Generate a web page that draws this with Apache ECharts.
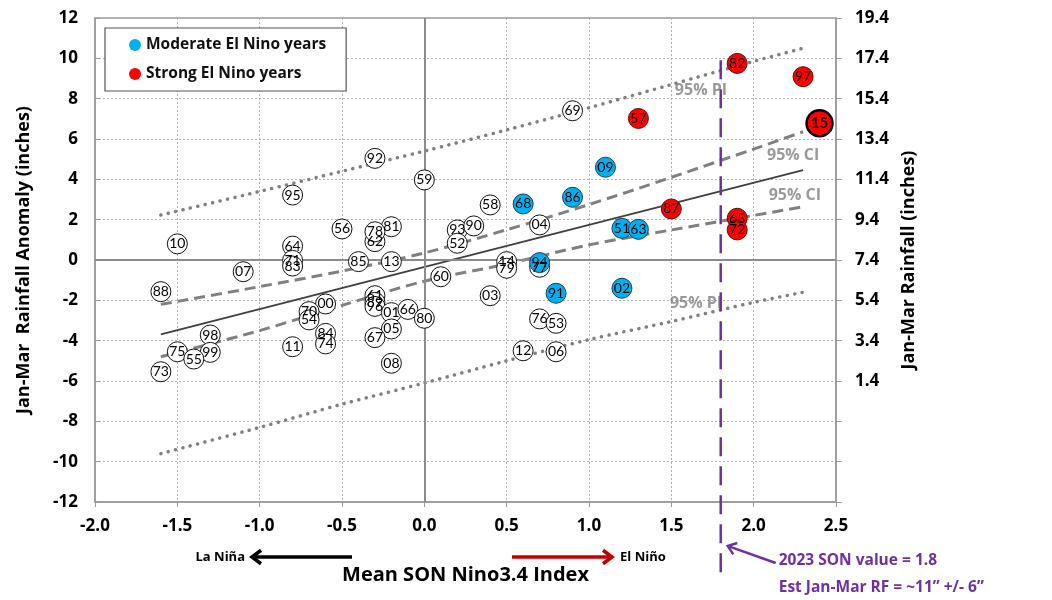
<!DOCTYPE html>
<html><head><meta charset="utf-8">
<script src="https://cdn.jsdelivr.net/npm/echarts@6/dist/echarts.min.js"></script>
<style>html,body{margin:0;padding:0;background:#fff}#c{width:1052px;height:600px}</style>
</head><body><div id="c"></div>
<script>
// ---------- data ----------
const neutralYears = ['10','07','88','98','75','99','55','73','92','95','59','56','81','62','78','64','71','83','85','13','00','70','54','84','74','11','61','89','96','01','66','80','05','67','08','60','69','58','93','90','52','04','14','79','77','03','76','53','12','06'];
const neutralX = [-1.5,-1.1,-1.6,-1.3,-1.5,-1.3,-1.4,-1.6,-0.3,-0.8,0.0,-0.5,-0.2,-0.3,-0.3,-0.8,-0.8,-0.8,-0.4,-0.2,-0.6,-0.7,-0.7,-0.6,-0.6,-0.8,-0.3,-0.3,-0.3,-0.2,-0.1,0.0,-0.2,-0.3,-0.2,0.1,0.9,0.4,0.2,0.3,0.2,0.7,0.5,0.5,0.7,0.4,0.7,0.8,0.6,0.8];
const neutralY = [0.8,-0.58,-1.57,-3.72,-4.55,-4.58,-4.91,-5.54,5.04,3.22,3.97,1.54,1.65,0.91,1.40,0.69,-0.02,-0.3,-0.08,-0.08,-2.18,-2.56,-2.97,-3.64,-4.16,-4.30,-1.77,-2.1,-2.3,-2.61,-2.45,-2.89,-3.42,-3.85,-5.12,-0.83,7.40,2.73,1.49,1.69,0.83,1.74,-0.08,-0.41,-0.36,-1.77,-2.92,-3.14,-4.50,-4.55];

const moderateYears = ['68','86','09','51','63','94','91','02'];
const moderateX = [0.6,0.9,1.1,1.2,1.3,0.7,0.8,1.2];
const moderateY = [2.78,3.11,4.60,1.57,1.52,-0.13,-1.65,-1.40];

const strongYears = ['82','97','57','87','65','72'];
const strongX = [1.9,2.3,1.3,1.5,1.9,1.9];
const strongY = [9.75,9.09,7.02,2.53,2.07,1.49];

const highlightYears = ['15'];
const highlightX = [2.4];
const highlightY = [6.78];

const regX = [-1.6, 2.3];
const regY = [-3.69, 4.46];
const bandX = [-1.6,-1.0,-0.5,0.0,0.5,1.0,1.5,2.0,2.3];
const ciUpperY = [-2.2,-1.32,-0.55,0.35,1.5,2.75,4.1,5.5,6.36];
const ciLowerY = [-4.8,-3.5,-2.25,-1.05,-0.2,0.75,1.49,2.21,2.64];
const piUpperY = [2.23,3.4,4.4,5.4,6.45,7.55,8.7,9.85,10.5];
const piLowerY = [-9.6,-8.3,-7.15,-6.1,-5.0,-3.95,-3.05,-2.1,-1.6];

const son2023 = 1.8;
const son2023LineY = [9.9, -15.6];

const bandLabelText = ['95% PI','95% CI','95% CI','95% PI'];
const bandLabelX = [1.68, 2.24, 2.25, 1.65];
const bandLabelY = [8.43, 5.2, 3.22, -2.13];

const xMin = -2.0, xMax = 2.5, xStep = 0.5;
const yMin = -12, yMax = 12, yStep = 2;
const rightOffset = 7.4; // Jan-Mar rainfall = anomaly + 7.4

// ---------- chart ----------
const FONT = 'Open Sans';
const zip = (names, xs, ys) => names.map((n, i) => ({ name: n, value: [xs[i], ys[i]] }));
const pts = (xs, ys) => xs.map((x, i) => [x, ys[i]]);

const circleLabel = { show: true, position: 'inside', formatter: p => p.name, color: '#000', fontFamily: 'Lato', fontSize: 14 };
const tickFont = { color: '#000', fontWeight: 'bold', fontSize: 17, fontFamily: FONT };

const chart = echarts.init(document.getElementById('c'), null, { renderer: 'canvas' });

const option = {
  animation: false,
  backgroundColor: '#fff',
  textStyle: { fontFamily: FONT },
  grid: { left: 95, right: 216, top: 18, bottom: 98, show: true, borderColor: '#9a9a9a', borderWidth: 1.5, backgroundColor: 'transparent' },
  legend: {
    data: ['Moderate El Nino years', 'Strong El Nino years'],
    orient: 'vertical', left: 105, top: 28,
    icon: 'circle', itemWidth: 12, itemHeight: 12, itemGap: 13,
    padding: [9, 20, 9, 24],
    borderColor: '#555', borderWidth: 1.2, backgroundColor: '#fff',
    itemStyle: { borderWidth: 0 },
    textStyle: { fontFamily: FONT, fontWeight: 'bold', fontSize: 15.5, color: '#111' },
    selectedMode: false
  },
  xAxis: {
    type: 'value', min: xMin, max: xMax, interval: xStep,
    axisLine: { onZero: false, show: true, lineStyle: { color: '#9a9a9a', width: 1.5 } },
    axisTick: { show: true, length: 5, lineStyle: { color: '#9a9a9a' } },
    axisLabel: Object.assign({ formatter: v => v.toFixed(1), margin: 16 }, tickFont),
    splitLine: { show: true, lineStyle: { color: '#b0b0b0', type: [2, 2], width: 1 } },
    name: 'Mean SON Nino3.4 Index', nameLocation: 'middle', nameGap: 63,
    nameTextStyle: { color: '#000', fontWeight: 'bold', fontSize: 20, fontFamily: FONT }
  },
  yAxis: [{
    type: 'value', min: yMin, max: yMax, interval: yStep,
    axisLine: { onZero: false, show: true, lineStyle: { color: '#9a9a9a', width: 1.5 } },
    axisTick: { show: true, inside: true, length: 5, lineStyle: { color: '#9a9a9a' } },
    axisLabel: Object.assign({ margin: 17 }, tickFont),
    splitLine: { show: true, lineStyle: { color: '#b0b0b0', type: [2, 2], width: 1 } },
    name: 'Jan-Mar  Rainfall Anomaly (inches)', nameLocation: 'middle', nameGap: 62, nameRotate: 90,
    nameTextStyle: { color: '#000', fontWeight: 'bold', fontSize: 18, fontFamily: FONT }
  }, {
    type: 'value', min: yMin, max: yMax, interval: yStep, position: 'right',
    axisLine: { onZero: false, show: true, lineStyle: { color: '#9a9a9a', width: 1.5 } },
    axisTick: { show: true, length: 6, lineStyle: { color: '#9a9a9a' } },
    axisLabel: Object.assign({ formatter: v => (v + rightOffset >= 0 ? (v + rightOffset).toFixed(1) : ''), margin: 19 }, tickFont),
    splitLine: { show: false },
    name: 'Jan-Mar Rainfall (inches)', nameLocation: 'middle', nameGap: 63, nameRotate: 90,
    nameTextStyle: { color: '#000', fontWeight: 'bold', fontSize: 18, fontFamily: FONT }
  }],
  series: [
    { // zero lines
      type: 'line', data: [], silent: true,
      markLine: { symbol: 'none', silent: true, label: { show: false },
        lineStyle: { color: '#8c8c8c', width: 2, type: 'solid' },
        data: [{ xAxis: 0 }, { yAxis: 0 }] }
    },
    { type: 'line', data: pts(bandX, piUpperY), smooth: 0.3, symbol: 'none', silent: true, z: 2,
      lineStyle: { color: '#808080', width: 3.5, type: [0.1, 7.5], cap: 'round' } },
    { type: 'line', data: pts(bandX, piLowerY), smooth: 0.3, symbol: 'none', silent: true, z: 2,
      lineStyle: { color: '#808080', width: 3.5, type: [0.1, 7.5], cap: 'round' } },
    { type: 'line', data: pts(bandX, ciUpperY), smooth: 0.3, symbol: 'none', silent: true, z: 2,
      lineStyle: { color: '#808080', width: 3, type: [11, 6] } },
    { type: 'line', data: pts(bandX, ciLowerY), smooth: 0.3, symbol: 'none', silent: true, z: 2,
      lineStyle: { color: '#808080', width: 3, type: [11, 6] } },
    { type: 'line', data: pts(regX, regY), symbol: 'none', silent: true, z: 2,
      lineStyle: { color: '#404040', width: 1.8 } },
    { type: 'scatter', data: zip(bandLabelText, bandLabelX, bandLabelY), symbolSize: 1, silent: true, z: 3,
      itemStyle: { color: 'rgba(0,0,0,0)' },
      label: { show: true, position: 'inside', formatter: p => p.name, color: '#808080', fontWeight: 'bold', fontSize: 16, fontFamily: FONT } },
    { name: 'neutral', type: 'scatter', data: zip(neutralYears, neutralX, neutralY), symbolSize: 20, z: 5,
      itemStyle: { color: '#fff', borderColor: '#111', borderWidth: 1, opacity: 1 }, label: circleLabel },
    { name: 'Moderate El Nino years', type: 'scatter', data: zip(moderateYears, moderateX, moderateY), symbolSize: 20, z: 5,
      itemStyle: { color: '#00B0F0', borderColor: '#1a3a55', borderWidth: 1, opacity: 1 }, label: circleLabel },
    { name: 'Strong El Nino years', type: 'scatter', data: zip(strongYears, strongX, strongY), symbolSize: 20, z: 5,
      itemStyle: { color: '#FF0000', borderColor: '#5a1010', borderWidth: 1, opacity: 1 }, label: circleLabel },
    { name: 'strong-highlight', type: 'scatter', data: zip(highlightYears, highlightX, highlightY), symbolSize: 26, z: 5,
      itemStyle: { color: '#FF0000', borderColor: '#000', borderWidth: 2.5, opacity: 1 },
      label: Object.assign({}, circleLabel, { fontSize: 15, fontWeight: 'bold' }) },
    { type: 'line', data: son2023LineY.map(y => [son2023, y]), symbol: 'none', silent: true, clip: false, z: 6,
      lineStyle: { color: '#7030A0', width: 2.5, type: [19, 10] } }
  ]
};
chart.setOption(option);

// ---------- annotations outside the plot ----------
function arrow(x1, y1, x2, y2, color, w, head) {
  const dx = x2 - x1, dy = y2 - y1, L = Math.hypot(dx, dy), ux = dx / L, uy = dy / L;
  const px = -uy, py = ux;
  const bx = x2 - ux * head, by = y2 - uy * head;
  return [
    { type: 'line', shape: { x1, y1, x2: x2 - ux * 2, y2: y2 - uy * 2 }, style: { stroke: color, lineWidth: w }, silent: true },
    { type: 'polyline', shape: { points: [[bx + px * head * 0.75, by + py * head * 0.75], [x2, y2], [bx - px * head * 0.75, by - py * head * 0.75]] },
      style: { stroke: color, lineWidth: w, fill: null, lineJoin: 'miter' }, silent: true }
  ];
}
const base = chart.convertToPixel({ gridIndex: 0 }, [son2023, yMin]);
const bottomY = base[1];
const g = [];
g.push(...arrow(352, bottomY + 55, 252, bottomY + 55, '#000', 3.5, 9));
g.push({ type: 'text', style: { text: 'La Niña', x: 245, y: bottomY + 55, align: 'right', verticalAlign: 'middle', fill: '#000', font: 'bold 13px "Open Sans"' }, silent: true });
g.push(...arrow(512, bottomY + 55, 612, bottomY + 55, '#C00000', 3.5, 9));
g.push({ type: 'text', style: { text: 'El Niño', x: 620, y: bottomY + 55, align: 'left', verticalAlign: 'middle', fill: '#000', font: 'bold 13px "Open Sans"' }, silent: true });
g.push(...arrow(base[0] + 55, bottomY + 61, base[0] + 7, bottomY + 44, '#7030A0', 2.5, 8));
g.push({ type: 'text', style: { text: '2023 SON value = 1.8', x: base[0] + 58, y: bottomY + 59, align: 'left', verticalAlign: 'middle', fill: '#7030A0', font: 'bold 15.5px "Open Sans"' }, silent: true });
g.push({ type: 'text', style: { text: 'Est Jan-Mar RF = ~11\u201D +/- 6\u201D', x: base[0] + 58, y: bottomY + 86, align: 'left', verticalAlign: 'middle', fill: '#7030A0', font: 'bold 15.5px "Open Sans"' }, silent: true });
chart.setOption({ graphic: g });
</script>
</body></html>
